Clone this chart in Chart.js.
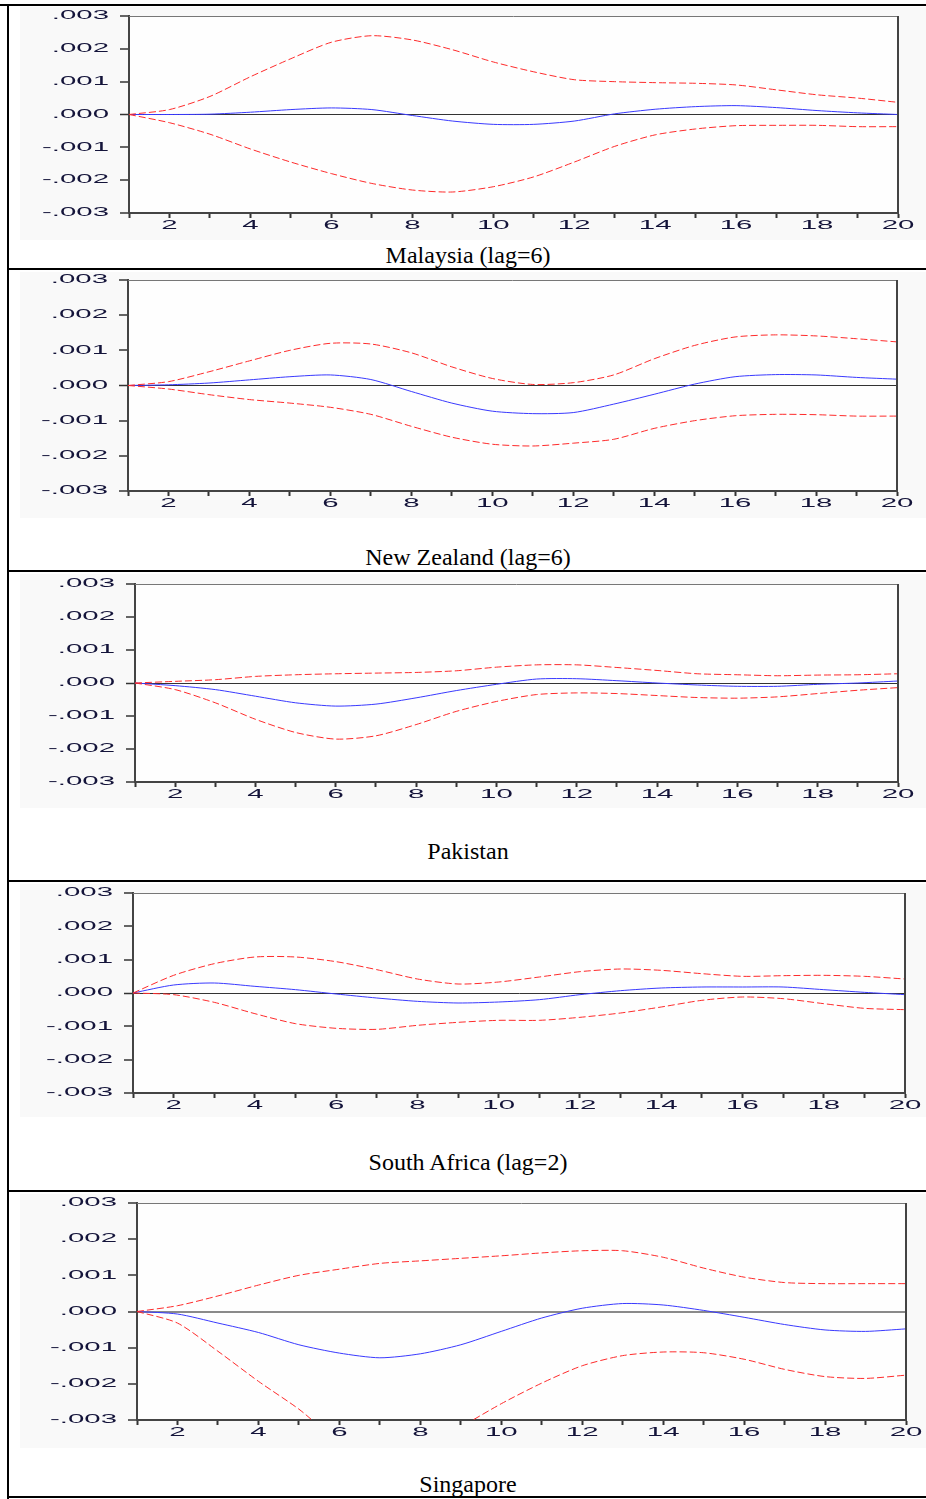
<!DOCTYPE html>
<html>
<head>
<meta charset="utf-8">
<title>Impulse responses</title>
<script src="https://cdn.jsdelivr.net/npm/chart.js@4.4.1/dist/chart.umd.min.js"></script>
<style>
  body { margin: 0; background: #fff; width: 926px; height: 1499px; position: relative; overflow: hidden; }
  .rule { position: absolute; background: #000; }
  .box { position: absolute; left: 20px; width: 906px; background: #f9f9f9; }
  .box canvas { display: block; }
  .cap { position: absolute; left: 8px; width: 920px; text-align: center;
         font: 24px/24px "Liberation Serif", "Times New Roman", serif; color: #000; }
</style>
</head>
<body>
<script>
// ---------- data: response (blue) with ±2 s.e. bands (red) ----------
const periods = [1, 2, 3, 4, 5, 6, 7, 8, 9, 10, 11, 12, 13, 14, 15, 16, 17, 18, 19, 20];

const malaysiaResp  = [0, 0, 0.00001, 0.00007, 0.00015, 0.0002, 0.00015, -0.00003, -0.0002, -0.0003, -0.0003, -0.0002, 0.00002, 0.00016, 0.00024, 0.00027, 0.00021, 0.00012, 0.00005, 0];
const malaysiaUpper = [0, 0.00015, 0.00055, 0.00115, 0.0017, 0.0022, 0.0024, 0.00227, 0.00197, 0.0016, 0.0013, 0.00106, 0.001, 0.00097, 0.00095, 0.0009, 0.00075, 0.0006, 0.0005, 0.00037];
const malaysiaLower = [0, -0.00025, -0.0006, -0.00105, -0.00145, -0.0018, -0.0021, -0.0023, -0.00236, -0.0022, -0.0019, -0.00145, -0.00097, -0.00062, -0.00044, -0.00034, -0.00033, -0.00033, -0.00037, -0.00037];

const nzResp  = [0, 0.00002, 0.00007, 0.00016, 0.00025, 0.0003, 0.00017, -0.00017, -0.0005, -0.00073, -0.0008, -0.00077, -0.00053, -0.00025, 0.00004, 0.00025, 0.00031, 0.0003, 0.00023, 0.00018];
const nzUpper = [0, 0.00011, 0.00039, 0.0007, 0.001, 0.0012, 0.00118, 0.00093, 0.00053, 0.0002, 0.00003, 0.00008, 0.0003, 0.00076, 0.00114, 0.00138, 0.00144, 0.00141, 0.00133, 0.00124];
const nzLower = [0, -0.0001, -0.00026, -0.0004, -0.0005, -0.00062, -0.00082, -0.00116, -0.00147, -0.00167, -0.00172, -0.00164, -0.00153, -0.00122, -0.001, -0.00086, -0.00082, -0.00083, -0.00087, -0.00087];

const pakistanResp  = [0, -0.00008, -0.0002, -0.0004, -0.0006, -0.0007, -0.00064, -0.00045, -0.00023, -0.00004, 0.00012, 0.00013, 0.00007, 0, -0.00006, -0.0001, -0.0001, -0.00004, 0, 0.00006];
const pakistanUpper = [0, 0.00005, 0.0001, 0.0002, 0.00025, 0.00028, 0.0003, 0.00032, 0.00037, 0.00048, 0.00055, 0.00055, 0.00047, 0.00038, 0.00028, 0.00025, 0.00022, 0.00024, 0.00025, 0.00028];
const pakistanLower = [0, -0.0002, -0.0006, -0.0011, -0.0015, -0.0017, -0.0016, -0.00126, -0.00086, -0.00056, -0.00035, -0.0003, -0.00032, -0.00038, -0.00044, -0.00046, -0.00042, -0.00032, -0.00022, -0.00014];

const saResp  = [0, 0.00024, 0.0003, 0.0002, 0.0001, -0.00003, -0.00015, -0.00025, -0.0003, -0.00027, -0.0002, -0.00005, 0.00007, 0.00015, 0.00018, 0.00018, 0.00018, 0.0001, 0.00002, -0.00005];
const saUpper = [0, 0.00053, 0.00088, 0.00108, 0.00108, 0.00094, 0.0007, 0.00042, 0.00027, 0.00033, 0.00048, 0.00064, 0.00072, 0.00068, 0.00058, 0.0005, 0.00052, 0.00053, 0.0005, 0.00042];
const saLower = [0, -0.00005, -0.00028, -0.00062, -0.00092, -0.00106, -0.00109, -0.00097, -0.00088, -0.00082, -0.00082, -0.00073, -0.0006, -0.00042, -0.00022, -0.00012, -0.00017, -0.00032, -0.00046, -0.0005];

const singaporeResp  = [0, -0.00007, -0.00032, -0.00058, -0.00092, -0.00115, -0.00128, -0.00117, -0.00092, -0.00055, -0.00018, 0.00009, 0.00022, 0.00018, 0.00003, -0.00016, -0.00036, -0.00051, -0.00055, -0.00048];
const singaporeUpper = [0, 0.00016, 0.00043, 0.00073, 0.001, 0.00117, 0.00133, 0.0014, 0.00147, 0.00154, 0.00162, 0.00168, 0.00168, 0.0015, 0.0012, 0.00095, 0.0008, 0.00077, 0.00077, 0.00077];
const singaporeLower = [0, -0.00032, -0.0011, -0.00193, -0.0027, -0.0036, -0.004, -0.0039, -0.0032, -0.00255, -0.00198, -0.0015, -0.00122, -0.00112, -0.00114, -0.00132, -0.0016, -0.0018, -0.00185, -0.00176];

const captions = ['Malaysia (lag=6)', 'New Zealand (lag=6)', 'Pakistan', 'South Africa (lag=2)', 'Singapore'];

// y axis range and tick spacing
const Y_MIN = -0.003, Y_MAX = 0.003, Y_STEP = 0.001;

// ---------- layout of the five panels ----------
// area = plot rectangle, box = grey chart backdrop, capTop = caption line top
const panels = [
  { resp: malaysiaResp,  upper: malaysiaUpper,  lower: malaysiaLower,  area: { l: 129, r: 898, t: 16,   b: 213 },  box: { t: 7,    b: 240 },  capTop: 243,  zero: '#333' },
  { resp: nzResp,        upper: nzUpper,        lower: nzLower,        area: { l: 128, r: 897, t: 280,  b: 491 },  box: { t: 272,  b: 518 },  capTop: 545,  zero: '#333' },
  { resp: pakistanResp,  upper: pakistanUpper,  lower: pakistanLower,  area: { l: 135, r: 898, t: 584,  b: 782 },  box: { t: 574,  b: 808 },  capTop: 839,  zero: '#333' },
  { resp: saResp,        upper: saUpper,        lower: saLower,        area: { l: 133, r: 905, t: 893,  b: 1093 }, box: { t: 884,  b: 1117 }, capTop: 1150, zero: '#333' },
  { resp: singaporeResp, upper: singaporeUpper, lower: singaporeLower, area: { l: 137, r: 906, t: 1203, b: 1420 }, box: { t: 1194, b: 1448 }, capTop: 1472, zero: '#8a8a8a' }
];

const BOX_LEFT = 20, BOX_W = 906;
const Y_AXIS_W = 60, X_AXIS_H = 20;
const SX = 2.45;   // horizontal stretch of the tick lettering

// table rules
const rules = [
  { x: 0, y: 4, w: 926, h: 2 },
  { x: 7, y: 4, w: 2, h: 1495 },
  { x: 7, y: 268, w: 919, h: 2 },
  { x: 7, y: 570, w: 919, h: 2 },
  { x: 7, y: 880, w: 919, h: 2 },
  { x: 7, y: 1190, w: 919, h: 2 },
  { x: 7, y: 1496, w: 919, h: 2 }
];
rules.forEach(r => {
  const d = document.createElement('div');
  d.className = 'rule';
  Object.assign(d.style, { left: r.x + 'px', top: r.y + 'px', width: r.w + 'px', height: r.h + 'px' });
  document.body.appendChild(d);
});

// ---------- helpers ----------
const fmtY = v => (v < -1e-9 ? '-' : '') + Math.abs(v).toFixed(3).replace(/^0/, '');
const toPoints = arr => periods.map((p, i) => ({ x: p, y: arr[i] }));

function drawStretched(ctx, text, px, py, align) {
  ctx.save();
  ctx.translate(px, py);
  ctx.scale(SX, 1);
  ctx.textAlign = align;
  ctx.fillText(text, 0, 0);
  ctx.restore();
}

// plot backdrop, top/right frame and wide tick lettering
const panelFrame = {
  id: 'panelFrame',
  beforeDraw(chart) {
    const { ctx, chartArea: a } = chart;
    ctx.save();
    ctx.fillStyle = '#fefefe';
    ctx.fillRect(a.left, a.top, a.right - a.left, a.bottom - a.top);
    ctx.restore();
  },
  afterDraw(chart) {
    const { ctx, chartArea: a, scales: { x, y } } = chart;
    ctx.save();
    ctx.strokeStyle = '#777';
    ctx.lineWidth = 1;
    ctx.beginPath();
    ctx.moveTo(a.left, a.top + 0.5);
    ctx.lineTo(a.right, a.top + 0.5);
    ctx.stroke();
    ctx.strokeStyle = '#444';
    ctx.lineWidth = 2;
    ctx.beginPath();
    ctx.moveTo(a.right, a.top);
    ctx.lineTo(a.right, a.bottom + 1);
    ctx.stroke();

    ctx.font = '12px "Liberation Sans", Arial, sans-serif';
    ctx.fillStyle = '#14143a';
    ctx.textBaseline = 'middle';
    y.ticks.forEach((t, i) => {
      drawStretched(ctx, fmtY(t.value), a.left - 20, y.getPixelForTick(i), 'right');
    });
    x.ticks.forEach((t, i) => {
      if (t.value % 2 !== 0) return;
      drawStretched(ctx, String(t.value), x.getPixelForTick(i), a.bottom + 13, 'center');
    });
    ctx.restore();
  }
};

const bandStyle = {
  borderColor: '#ff2b2b',
  borderWidth: 1,
  borderDash: [7, 3],
  pointRadius: 0,
  tension: 0.25,
  fill: false
};

// ---------- build each panel ----------
panels.forEach((p, idx) => {
  const boxH = p.box.b - p.box.t;
  const box = document.createElement('div');
  box.className = 'box';
  box.style.top = p.box.t + 'px';
  box.style.height = boxH + 'px';
  const canvas = document.createElement('canvas');
  canvas.width = BOX_W;
  canvas.height = boxH;
  box.appendChild(canvas);
  document.body.appendChild(box);

  const cap = document.createElement('div');
  cap.className = 'cap';
  cap.style.top = p.capTop + 'px';
  cap.textContent = captions[idx];
  document.body.appendChild(cap);

  new Chart(canvas.getContext('2d'), {
    type: 'line',
    data: {
      datasets: [
        { label: 'Upper', data: toPoints(p.upper), ...bandStyle },
        { label: 'Lower', data: toPoints(p.lower), ...bandStyle },
        {
          label: 'Response',
          data: toPoints(p.resp),
          borderColor: '#3a3aff',
          borderWidth: 1,
          pointRadius: 0,
          tension: 0.25,
          fill: false
        }
      ]
    },
    options: {
      responsive: false,
      animation: false,
      events: [],
      layout: {
        padding: {
          left: p.area.l - BOX_LEFT - Y_AXIS_W,
          right: BOX_LEFT + BOX_W - p.area.r,
          top: p.area.t - p.box.t,
          bottom: p.box.b - p.area.b - X_AXIS_H
        }
      },
      plugins: { legend: { display: false }, tooltip: { enabled: false } },
      scales: {
        x: {
          type: 'linear',
          min: 1,
          max: 20,
          ticks: { display: false, stepSize: 1 },
          grid: { drawOnChartArea: false, tickLength: 5, tickColor: '#333', tickWidth: 2 },
          border: { display: true, color: '#444', width: 2 },
          afterFit: s => { s.height = X_AXIS_H; }
        },
        y: {
          min: Y_MIN,
          max: Y_MAX,
          ticks: { display: false, stepSize: Y_STEP },
          grid: {
            drawOnChartArea: true,
            color: c => (Math.abs(c.tick.value) < 1e-9 ? p.zero : 'transparent'),
            lineWidth: c => (Math.abs(c.tick.value) < 1e-9 ? (p.zero === '#333' ? 1 : 2) : 0),
            tickLength: 9,
            tickColor: '#333',
            tickWidth: 1.5
          },
          border: { display: true, color: '#444', width: 2 },
          afterFit: s => { s.width = Y_AXIS_W; }
        }
      }
    },
    plugins: [panelFrame]
  });
});
</script>
</body>
</html>
